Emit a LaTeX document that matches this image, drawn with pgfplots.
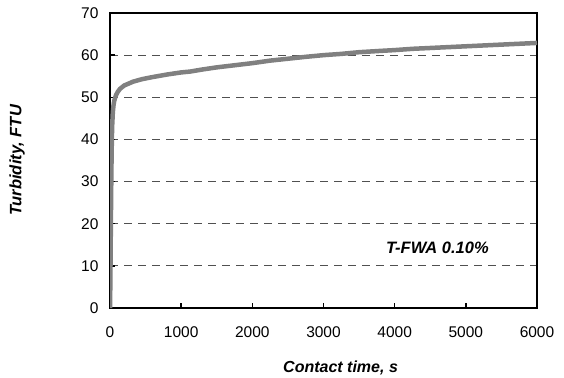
\documentclass[border=0pt]{standalone}
\usepackage{pgfplots}
\pgfplotsset{compat=1.18}
\usepackage{fontspec}
\setmainfont{Liberation Sans}
\definecolor{curvegray}{RGB}{128,128,128}
\definecolor{gridgray}{RGB}{80,80,80}
\begin{document}
\begin{tikzpicture}
\useasboundingbox (0,0) rectangle (564pt,377pt);
\begin{axis}[
  at={(110pt,69pt)}, anchor=south west,
  scale only axis, width=427pt, height=295pt,
  xmin=0, xmax=6000, ymin=0, ymax=70,
  xtick={0,1000,...,6000}, ytick={0,10,...,70},
  tick align=inside, xtick pos=bottom, ytick pos=left,
  major tick length=5pt,
  every tick/.style={black, line width=1.5pt},
  axis line style={black, line width=2pt},
  ymajorgrids, grid style={gridgray, line width=0.9pt, dash pattern=on 8pt off 6pt},
  /pgf/number format/assume math mode=true,
  /pgf/number format/1000 sep={},
  ticklabel style={font=\fontsize{15.5}{17}\selectfont},
  xticklabel style={yshift=-15pt},
  yticklabel style={xshift=-8pt},
  xlabel={Contact time, s},
  ylabel={Turbidity, FTU},
  xlabel style={at={([yshift=-64.5pt]axis description cs:0.54,0)}, anchor=base, font=\bfseries\itshape\fontsize{16}{18}\selectfont},
  ylabel style={at={([xshift=-93pt]axis description cs:0,0.5)}, anchor=center, font=\bfseries\itshape\fontsize{16.5}{18}\selectfont},
  clip=true,
]
\addplot[curvegray, line width=4.5pt, line join=round] coordinates {
(0,0) (5,6) (10,16) (15,25) (20,33) (25,39) (30,43) (40,46.5) (50,48.2) (60,49.2) (84,50.5) (110,51.3) (140,52.0)
(200,52.8) (323,53.7) (450,54.3) (600,54.8) (800,55.4) (1000,55.9) (1124,56.1) (1300,56.6) (1500,57.1)
(1750,57.6) (2000,58.1) (2250,58.7) (2528,59.2) (2750,59.6) (3000,60.0) (3250,60.3) (3500,60.7) (3792,61.0)
(4000,61.2) (4250,61.5) (4500,61.7) (4750,61.9) (5000,62.1) (5250,62.3) (5500,62.5) (5750,62.7) (6000,62.9)
};
\node[font=\bfseries\itshape\fontsize{16.5}{18}\selectfont] at (axis cs:4600,14.3) {T-FWA 0.10\%};
\end{axis}
\end{tikzpicture}
\end{document}
